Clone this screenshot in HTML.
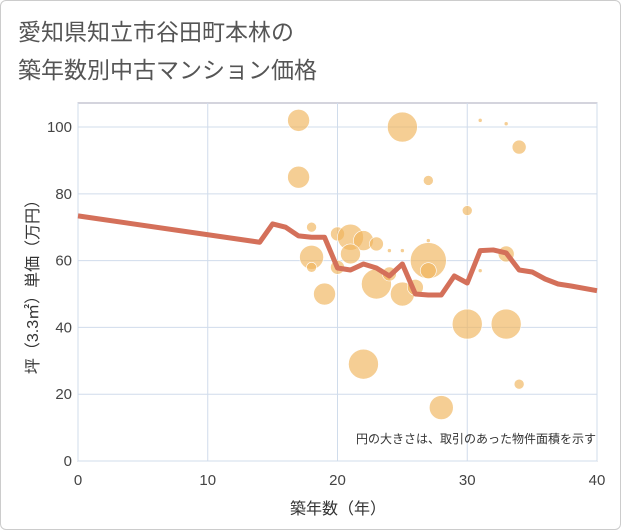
<!DOCTYPE html>
<html><head><meta charset="utf-8"><style>
body{margin:0;background:#fff;font-family:"Liberation Sans","Noto Sans CJK JP",sans-serif;}
#wrap{position:relative;width:619px;height:528px;border:1px solid #ccc;border-radius:6px;overflow:hidden;}
</style></head><body>
<div id="wrap">
<svg width="621" height="530" id="chart" style="position:absolute;left:-1px;top:-1px">
<text x="18" y="40" font-size="23" fill="#555" font-family="Liberation Sans,Noto Sans CJK JP,sans-serif">愛知県知立市谷田町本林の</text>
<text x="18" y="78" font-size="23" fill="#555" font-family="Liberation Sans,Noto Sans CJK JP,sans-serif">築年数別中古マンション価格</text>
<g id="grid"></g><g id="bubbles"></g><g id="line"></g><g id="axes"></g>
<text x="596" y="443" font-size="12" fill="#333" text-anchor="end" font-family="Liberation Sans,Noto Sans CJK JP,sans-serif">円の大きさは、取引のあった物件面積を示す</text>
<text x="338" y="514" font-size="16" fill="#333" text-anchor="middle" font-family="Liberation Sans,Noto Sans CJK JP,sans-serif">築年数（年）</text>
<text transform="translate(38,283) rotate(-90)" font-size="16" fill="#333" text-anchor="middle" font-family="Liberation Sans,Noto Sans CJK JP,sans-serif">坪（3.3㎡）単価（万円）</text>
</svg></div>
<script>
const xTicks=[0,10,20,30,40];
const yTicks=[0,20,40,60,80,100];
const lineX=[0,14,15,16,17,18,19,20,21,22,23,24,25,26,27,28,29,30,31,32,33,34,35,36,37,38,40];
const lineY=[73.4,65.5,71,70,67.4,67,67,57.8,57.2,59,57.8,55.4,59,50,49.7,49.7,55.4,53.3,63,63.2,62.3,57.2,56.6,54.5,53,52.4,51];
const bubX=[17,17,25,27,31,33,34,30,18,20,21,22,23,21,18,18,20,19,23,25,26,24,24,25,27,27,27,31,33,30,33,22,28,34];
const bubY=[102,85,100,84,102,101,94,75,70,68,67,66,65,62,61,58,58,50,53,50,52,56,63,63,60,57,66,57,62,41,41,29,16,23];
const bubR=[11,11,15,5,2,2,7,5,5,7,13,10,7,10,12,5,7,11,15,12,8,7,2,2,18,8,2,2,8,15,15,15,12,5];
const L=78,R=597,T=103,B=461;
const sx=v=>L+(v-0)/40*(R-L);
const sy=v=>B-v/107.2*(B-T);
const NS='http://www.w3.org/2000/svg';
function mk(t,a,p){const e=document.createElementNS(NS,t);for(const k in a)e.setAttribute(k,a[k]);p.appendChild(e);return e;}
const grid=document.getElementById('grid'),axes=document.getElementById('axes');
const bg=mk('rect',{x:L,y:T,width:R-L,height:B-T,fill:'#fff',stroke:'#aab',"stroke-width":1},grid);


xTicks.forEach(v=>{const l=mk('line',{x1:sx(v),x2:sx(v),y1:T,y2:B,stroke:'#d0dceb',"stroke-width":1},grid);


const t=mk('text',{x:sx(v),y:B+24,"font-size":15,fill:'#444',"text-anchor":'middle'},axes);t.textContent=v;

});
yTicks.forEach(v=>{const l=mk('line',{x1:L,x2:R,y1:sy(v),y2:sy(v),stroke:'#d0dceb',"stroke-width":1},grid);


const t=mk('text',{x:L-6,y:sy(v)+5,"font-size":15,fill:'#444',"text-anchor":'end'},axes);t.textContent=v;

});
const bb=document.getElementById('bubbles');
bubX.forEach((x,i)=>{const c=mk('circle',{cx:sx(x),cy:sy(bubY[i]),r:bubR[i],fill:'rgba(240,180,90,0.65)',stroke:'#fff',"stroke-width":0.6},bb);

});
const pts=lineX.map((x,i)=>sx(x)+','+sy(lineY[i])).join(' ');
const pl=mk('polyline',{points:pts,fill:'none',stroke:'#d4705a',"stroke-width":5,"stroke-linejoin":'round'},document.getElementById('line'));


</script></body></html>
